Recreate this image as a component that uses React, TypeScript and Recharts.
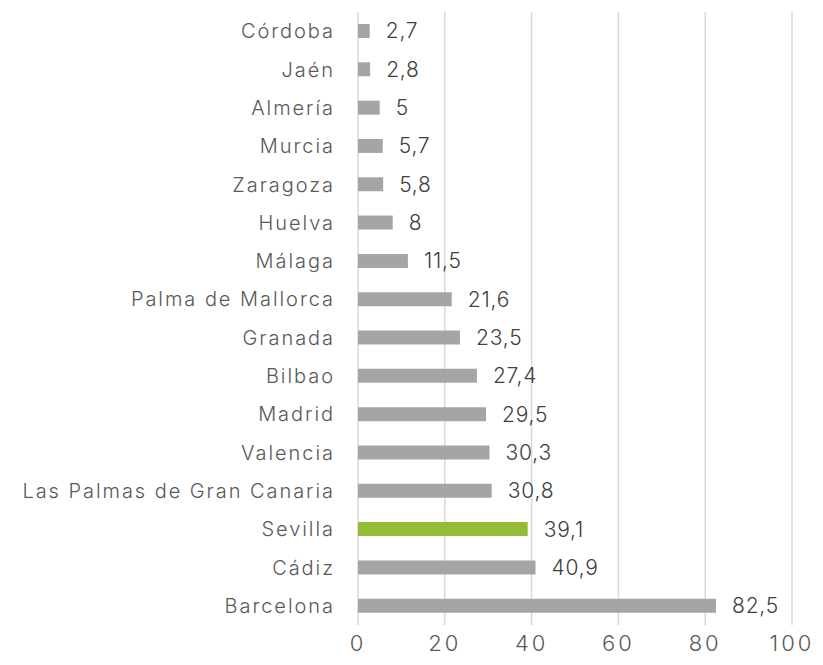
import { BarChart, Bar, XAxis, YAxis, CartesianGrid, Cell, LabelList } from "recharts";

const cities = [
  "Córdoba",
  "Jaén",
  "Almería",
  "Murcia",
  "Zaragoza",
  "Huelva",
  "Málaga",
  "Palma de Mallorca",
  "Granada",
  "Bilbao",
  "Madrid",
  "Valencia",
  "Las Palmas de Gran Canaria",
  "Sevilla",
  "Cádiz",
  "Barcelona",
];
const values = [2.7, 2.8, 5, 5.7, 5.8, 8, 11.5, 21.6, 23.5, 27.4, 29.5, 30.3, 30.8, 39.1, 40.9, 82.5];
const xTicks = [0, 20, 40, 60, 80, 100];
const highlight = "Sevilla";

const data = cities.map((city, i) => ({ city, value: values[i] }));

const font = "Inter, 'Noto Sans', sans-serif";

export default function App() {
  return (
    <div style={{ width: 815, height: 657, background: "#fff", fontFamily: font }}>
      <BarChart
        width={815}
        height={657}
        data={data}
        layout="vertical"
        margin={{ top: 4, right: 31, bottom: 10, left: 0 }}
      >
        <CartesianGrid horizontal={false} stroke="#D9D9D9" strokeWidth={1.5} />
        <XAxis
          type="number"
          domain={[0, 100]}
          ticks={xTicks}
          axisLine={false}
          tickLine={false}
          tickMargin={4}
          tick={{ fontSize: 22, fill: "#595959", fontFamily: font, fontWeight: 300, letterSpacing: 3 }}
        />
        <YAxis
          type="category"
          dataKey="city"
          width={350}
          axisLine={false}
          tickLine={false}
          tickSize={0}
          tickMargin={23}
          interval={0}
          tick={{ fontSize: 20, fill: "#595959", fontFamily: font, fontWeight: 300, letterSpacing: 1.95 }}
        />
        <Bar dataKey="value" barSize={14} isAnimationActive={false}>
          {data.map((d) => (
            <Cell key={d.city} fill={d.city === highlight ? "#95BC36" : "#A5A5A5"} />
          ))}
          <LabelList
            dataKey="value"
            position="right"
            offset={16}
            formatter={(v: number) => String(v).replace(".", ",")}
            style={{ fontSize: 21, fill: "#404040", fontFamily: font, fontWeight: 300, letterSpacing: 0.8 }}
          />
        </Bar>
      </BarChart>
    </div>
  );
}
